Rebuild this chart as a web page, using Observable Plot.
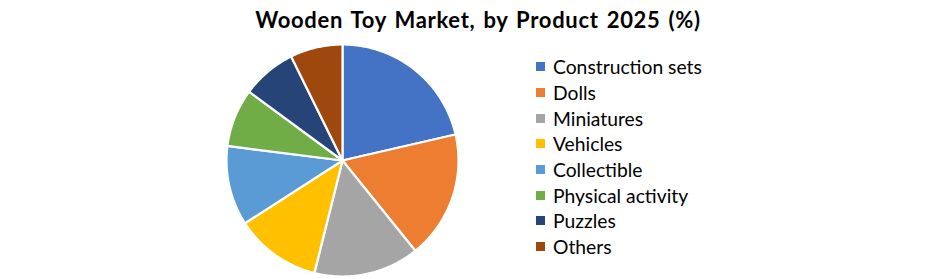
<!DOCTYPE html>
<html><head><meta charset="utf-8">
<script src="https://cdn.jsdelivr.net/npm/d3@7"></script>
<script src="https://cdn.jsdelivr.net/npm/@observablehq/plot@0.6"></script>
<style>
body{margin:0;background:#fff;font-family:Lato,"Open Sans",sans-serif;}
#wrap{position:relative;width:940px;height:279px;overflow:hidden;background:#fff}
#title{position:absolute;top:6px;left:0;width:956px;text-align:center;font-weight:bold;font-size:22px;letter-spacing:0.7px;word-spacing:2px;color:#000;line-height:28px}
#chart{position:absolute;top:40px;left:0}
#legend{position:absolute;left:536px;top:54px;}
.item{display:flex;align-items:center;height:25.7px;font-size:19.3px;color:#000}
.sw{width:9px;height:9px;margin-right:8px;flex:none}
</style></head>
<body>
<div id="wrap">
  <div id="title">Wooden Toy Market, by Product 2025 (%)</div>
  <div id="chart"></div>
  <div id="legend"></div>
</div>
<script>
const categories = ["Construction sets","Dolls","Miniatures","Vehicles","Collectible","Physical activity","Puzzles","Others"];
const shares = [21.4, 17.8, 14.7, 12.0, 11.1, 8.1, 7.6, 7.3];
const colors = ["#4472C4","#ED7D31","#A5A5A5","#FFC000","#5B9BD5","#70AD47","#264478","#9E480E"];

const rows = categories.map((name, i) => ({name, value: shares[i]}));
const arcs = d3.pie().sort(null).value(d => d.value)(rows);
const pts = [];
for (const a of arcs) {
  const name = a.data.name;
  pts.push({name, x: 0, y: 0});
  const n = Math.max(8, Math.ceil((a.endAngle - a.startAngle) / 0.01));
  for (let k = 0; k <= n; k++) {
    const t = a.startAngle + (a.endAngle - a.startAngle) * k / n;
    pts.push({name, x: Math.sin(t), y: Math.cos(t)});
  }
  pts.push({name, x: 0, y: 0});
}

const cx = 342, cy = 120, R = 116;
const plot = Plot.plot({
  width: 940, height: 239,
  margin: 0,
  x: {domain: [-1, 1], range: [cx - R, cx + R], axis: null},
  y: {domain: [-1, 1], range: [cy + R, cy - R], axis: null},
  color: {type: "ordinal", domain: categories, range: colors, legend: false},
  marks: [
    Plot.line(pts, {x: "x", y: "y", z: "name", fill: "name", stroke: "white", strokeWidth: 2.2, strokeLinejoin: "round", curve: "linear"})
  ]
});
document.getElementById("chart").appendChild(plot);

const lg = document.getElementById("legend");
categories.forEach((c, i) => {
  const it = document.createElement("div");
  it.className = "item";
  const sw = document.createElement("span");
  sw.className = "sw";
  sw.style.background = colors[i];
  const tx = document.createElement("span");
  tx.textContent = c;
  it.appendChild(sw); it.appendChild(tx);
  lg.appendChild(it);
});
</script>
</body></html>
